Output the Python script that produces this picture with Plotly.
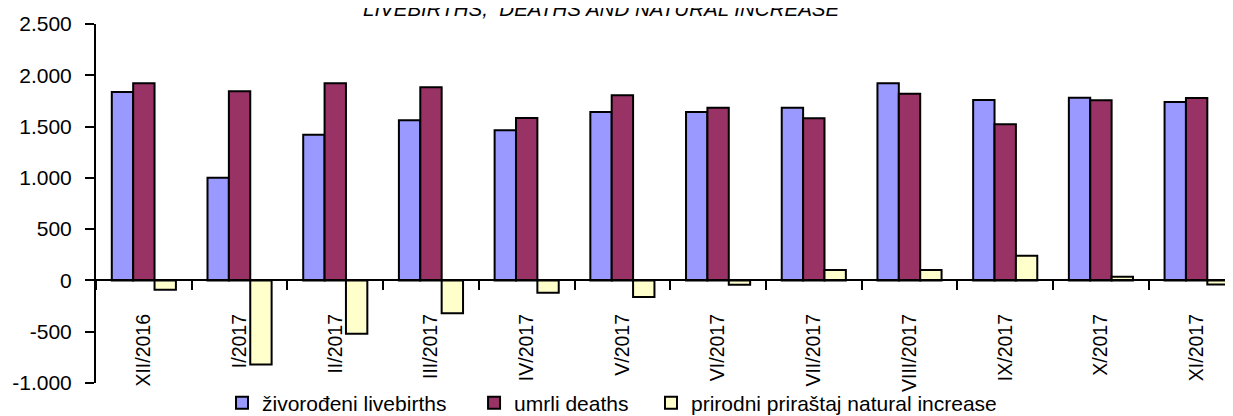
import plotly.graph_objects as go

categories = ["XII/2016", "I/2017", "II/2017", "III/2017", "IV/2017", "V/2017",
              "VI/2017", "VII/2017", "VIII/2017", "IX/2017", "X/2017", "XI/2017"]
livebirths = [1838, 1000, 1421, 1561, 1464, 1642, 1642, 1684, 1922, 1759, 1782, 1740]
deaths = [1923, 1845, 1923, 1883, 1584, 1805, 1684, 1581, 1821, 1522, 1757, 1779]
natural_increase = [-92, -820, -520, -320, -120, -161, -41, 102, 102, 240, 35, -39]

y_tickvals = [-1000, -500, 0, 500, 1000, 1500, 2000, 2500]
y_ticktext = ["-1.000", "-500", "0", "500", "1.000", "1.500", "2.000", "2.500"]

FONT = "Liberation Sans, Arial, sans-serif"

fig = go.Figure()
fig.add_trace(go.Bar(x=categories, y=livebirths, name="živorođeni livebirths", legend="legend",
                     marker=dict(color="#9999FF", line=dict(color="black", width=2))))
fig.add_trace(go.Bar(x=categories, y=deaths, name="umrli deaths", legend="legend2",
                     marker=dict(color="#993366", line=dict(color="black", width=2))))
fig.add_trace(go.Bar(x=categories, y=natural_increase, name="prirodni priraštaj natural increase",
                     legend="legend3",
                     marker=dict(color="#FFFFCC", line=dict(color="black", width=2))))

leg_common = dict(orientation="h", xanchor="left", y=-0.0557, yanchor="middle",
                  font=dict(size=21, family=FONT, color="black"), bgcolor="rgba(0,0,0,0)",
                  itemwidth=30)

fig.update_layout(
    width=1225, height=408,
    margin=dict(l=88, r=0, t=16, b=33, autoexpand=False),
    plot_bgcolor="white", paper_bgcolor="white",
    barmode="group", bargap=0.33, bargroupgap=0,
    font=dict(family=FONT, color="black"),
    showlegend=True,
    legend=dict(x=0.1108, **leg_common),
    legend2=dict(x=0.3325, **leg_common),
    legend3=dict(x=0.4881, **leg_common),
    xaxis=dict(
        range=[-0.5, 11.38],
        anchor="free", position=1000/3500,
        showline=True, linecolor="black", linewidth=1.5,
        ticks="outside", tickson="boundaries", ticklen=9, tickwidth=2, tickcolor="black",
        tickangle=-90, tickfont=dict(size=19.5, family=FONT),
        ticklabelstandoff=25,
        showgrid=False, zeroline=False, automargin=False,
    ),
    yaxis=dict(
        range=[-1000, 2500],
        tickvals=y_tickvals, ticktext=y_ticktext,
        showline=True, linecolor="black", linewidth=2,
        ticks="outside", ticklen=9, tickwidth=2, tickcolor="black",
        tickfont=dict(size=21, family=FONT),
        ticklabelstandoff=9,
        showgrid=False, zeroline=False, automargin=False,
    ),
    annotations=[dict(
        text="LIVEBIRTHS,  DEATHS AND NATURAL INCREASE",
        xref="paper", yref="paper", x=0.444, y=1 + (24 - 8) / 359,
        xanchor="center", yanchor="middle", showarrow=False,
        font=dict(size=20.5, family=FONT, style="italic"),
    )],
)

fig.write_html("out.html")
